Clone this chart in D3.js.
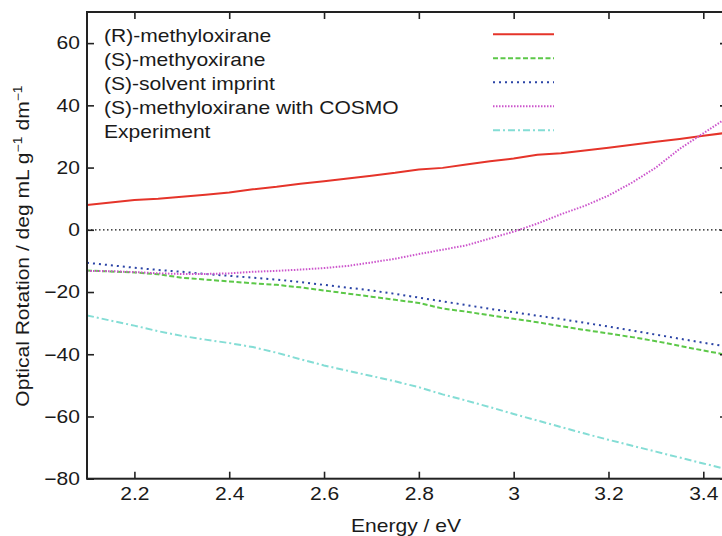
<!DOCTYPE html>
<html>
<head>
<meta charset="utf-8">
<script src="https://cdn.jsdelivr.net/npm/d3@7"></script>
<style>
  html, body { margin: 0; padding: 0; background: #fff; overflow: hidden; }
  svg { display: block; font-family: "Liberation Sans", Arial, Helvetica, sans-serif; }
</style>
</head>
<body>
<svg id="chart" width="722" height="536"></svg>
<script>
// Photon energy grid (eV)
const energy = [2.10, 2.15, 2.20, 2.25, 2.30, 2.35, 2.40, 2.45, 2.50, 2.55, 2.60, 2.65, 2.70, 2.75,
                2.80, 2.85, 2.90, 2.95, 3.00, 3.05, 3.10, 3.15, 3.20, 3.25, 3.30, 3.35, 3.40, 3.45];

// Specific optical rotation (deg mL g^-1 dm^-1)
const rMethyloxirane = [8.0, 8.8, 9.6, 10.0, 10.6, 11.3, 12.0, 13.0, 13.8, 14.8, 15.6, 16.5, 17.4, 18.3,
                        19.4, 19.9, 21.0, 22.0, 22.9, 24.1, 24.6, 25.5, 26.4, 27.3, 28.3, 29.2, 30.2, 31.2];
const sMethyoxirane  = [-13.1, -13.4, -13.7, -14.3, -15.4, -16.0, -16.6, -17.2, -17.7, -18.5, -19.5, -20.5, -21.5, -22.5,
                        -23.5, -25.3, -26.3, -27.5, -28.6, -29.7, -31.0, -32.2, -33.3, -34.5, -35.8, -37.3, -38.8, -40.2];
const sSolventImprint = [-10.6, -11.4, -12.2, -12.9, -13.5, -14.2, -14.8, -15.4, -16.0, -16.8, -17.7, -18.6, -19.5, -20.6,
                         -21.8, -23.0, -24.2, -25.4, -26.5, -27.6, -28.7, -29.9, -31.1, -32.4, -33.7, -35.0, -36.3, -37.5];
const sCosmo = [-13.2, -13.3, -13.6, -14.0, -14.2, -14.2, -14.0, -13.5, -13.2, -12.8, -12.3, -11.6, -10.5, -9.3,
                -7.8, -6.4, -5.0, -2.8, -0.6, 2.0, 5.0, 7.7, 11.0, 15.2, 20.0, 26.0, 31.0, 36.0];
const experiment = [-27.5, -29.2, -30.8, -32.6, -34.1, -35.3, -36.4, -37.7, -39.5, -41.6, -43.6, -45.3, -47.0, -48.7,
                    -50.6, -52.9, -54.9, -57.0, -59.2, -61.3, -63.4, -65.5, -67.5, -69.4, -71.3, -73.2, -75.1, -77.0];

const seriesNames = ["(R)-methyloxirane", "(S)-methyoxirane", "(S)-solvent imprint",
                     "(S)-methyloxirane with COSMO", "Experiment"];
const seriesValues = [rMethyloxirane, sMethyoxirane, sSolventImprint, sCosmo, experiment];

const xTicks = [2.2, 2.4, 2.6, 2.8, 3.0, 3.2, 3.4];
const yTicks = [-80, -60, -40, -20, 0, 20, 40, 60];

// Line styling per series
const styles = [
  { color: "#e5342a", dash: null },
  { color: "#5cc848", dash: "5,2.5" },
  { color: "#2b44a6", dash: "2,4" },
  { color: "#cc55cc", dash: "1.5,1.5" },
  { color: "#84ddd5", dash: "7,3,2,3" }
];

const FONT_SIZE = 18;
const WIDEN = 1.17;        // wide sans rendering: glyphs drawn horizontally expanded
const textColor = "#1a1a1a";

const svg = d3.select("#chart");
const plot = { left: 87, top: 12, right: 727, bottom: 478.7 };

const x = d3.scaleLinear().domain([2.1, 3.45]).range([plot.left, plot.right]);
const y = d3.scaleLinear().domain([-80, 70]).range([plot.bottom, plot.top]);

// Move a text's x/y into a transform so the glyphs can be widened about the anchor point
function widen(sel, extra) {
  sel.each(function () {
    const t = d3.select(this);
    const tx = +t.attr("x") || 0, ty = +t.attr("y") || 0;
    t.attr("x", 0).attr("y", 0)
      .attr("transform", `translate(${tx},${ty}) ${extra || ""} scale(${WIDEN},1)`);
  });
}

svg.append("defs").append("clipPath").attr("id", "plotClip")
  .append("rect")
  .attr("x", plot.left).attr("y", plot.top)
  .attr("width", plot.right - plot.left).attr("height", plot.bottom - plot.top);

// Zero reference line
svg.append("line")
  .attr("x1", x(2.1)).attr("x2", x(3.45))
  .attr("y1", y(0)).attr("y2", y(0))
  .attr("stroke", "#111").attr("stroke-width", 1.2)
  .attr("stroke-dasharray", "1.5,2.5");

// Curves
const line = d3.line()
  .x((d, i) => x(energy[i]))
  .y(d => y(d));

const curves = svg.append("g").attr("clip-path", "url(#plotClip)");
seriesValues.forEach((vals, k) => {
  curves.append("path")
    .datum(vals)
    .attr("d", line)
    .attr("fill", "none")
    .attr("stroke", styles[k].color)
    .attr("stroke-width", 2)
    .attr("stroke-dasharray", styles[k].dash);
});

// Axes with inward ticks on all four sides
const fmt = d => (d < 0 ? "\u2212" + Math.abs(d) : String(d));
const tickLen = 7;
const axisColor = "#222";

const bottomAxis = svg.append("g")
  .attr("transform", `translate(0,${plot.bottom})`)
  .call(d3.axisBottom(x).tickValues(xTicks).tickSize(-tickLen).tickPadding(9).tickFormat(d => String(d)));
const topAxis = svg.append("g")
  .attr("transform", `translate(0,${plot.top})`)
  .call(d3.axisTop(x).tickValues(xTicks).tickSize(-tickLen).tickFormat(""));
const leftAxis = svg.append("g")
  .attr("transform", `translate(${plot.left},0)`)
  .call(d3.axisLeft(y).tickValues(yTicks).tickSize(-tickLen).tickPadding(7).tickFormat(fmt));
const rightAxis = svg.append("g")
  .attr("transform", `translate(${plot.right},0)`)
  .call(d3.axisRight(y).tickValues(yTicks).tickSize(-tickLen).tickFormat(""));

[bottomAxis, topAxis, leftAxis, rightAxis].forEach(g => {
  g.select(".domain").remove();
  g.selectAll(".tick line").attr("stroke", axisColor).attr("stroke-width", 1.6);
  g.selectAll(".tick text").attr("fill", textColor).attr("font-size", FONT_SIZE)
    .attr("font-family", "'Liberation Sans', Arial, sans-serif");
});
widen(bottomAxis.selectAll(".tick text"));
widen(leftAxis.selectAll(".tick text"));

// Frame
svg.append("rect")
  .attr("x", plot.left).attr("y", plot.top)
  .attr("width", plot.right - plot.left).attr("height", plot.bottom - plot.top)
  .attr("fill", "none").attr("stroke", axisColor).attr("stroke-width", 2);

// Legend
const legend = svg.append("g");
seriesNames.forEach((name, k) => {
  const ly = 34.3 + k * 24;
  legend.append("text")
    .attr("x", 104).attr("y", ly).attr("dy", "0.4em")
    .attr("font-size", FONT_SIZE).attr("fill", textColor)
    .text(name);
  legend.append("line")
    .attr("x1", 493).attr("x2", 554).attr("y1", ly).attr("y2", ly)
    .attr("stroke", styles[k].color).attr("stroke-width", 2)
    .attr("stroke-dasharray", styles[k].dash);
});
widen(legend.selectAll("text"));

// Axis titles
const xTitle = svg.append("text")
  .attr("x", 406).attr("y", 532)
  .attr("text-anchor", "middle").attr("font-size", FONT_SIZE).attr("fill", textColor)
  .text("Energy / eV");
widen(xTitle);

const yTitle = svg.append("text")
  .attr("x", 29).attr("y", 246)
  .attr("text-anchor", "middle").attr("font-size", FONT_SIZE).attr("fill", textColor);
yTitle.append("tspan").text("Optical Rotation / deg mL g");
yTitle.append("tspan").attr("font-size", 12).attr("dy", -7).text("\u22121");
yTitle.append("tspan").attr("dy", 7).text(" dm");
yTitle.append("tspan").attr("font-size", 12).attr("dy", -7).text("\u22121");
widen(yTitle, "rotate(-90)");
</script>
</body>
</html>
